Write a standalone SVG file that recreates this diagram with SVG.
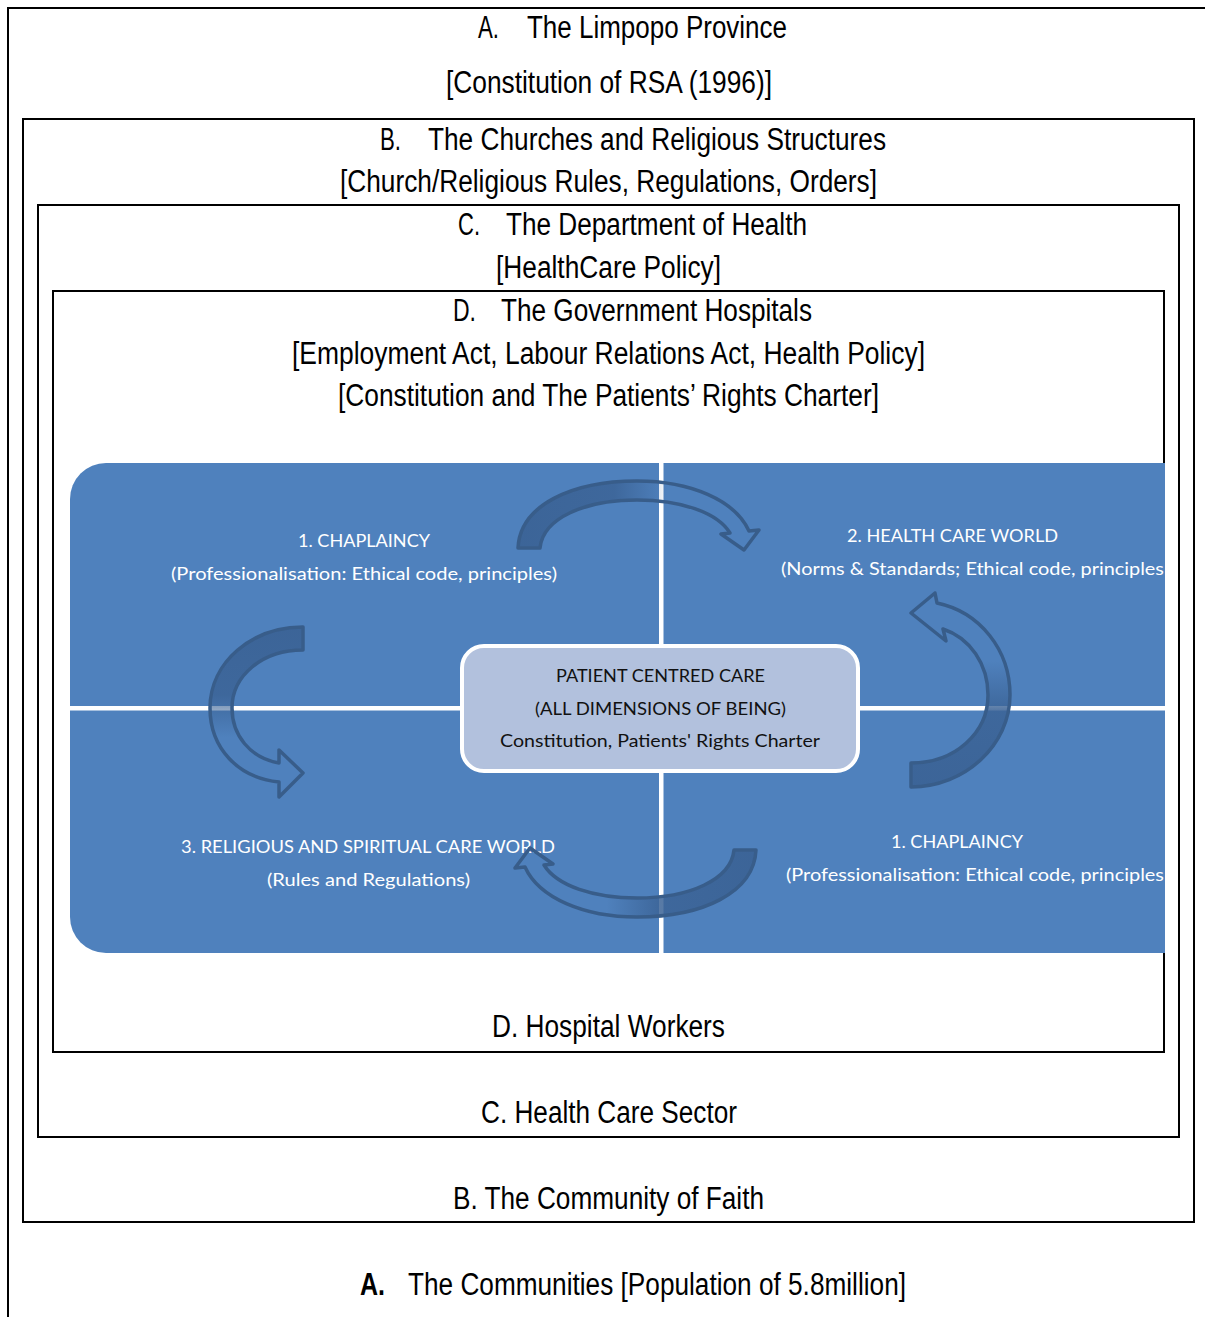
<svg xmlns="http://www.w3.org/2000/svg" width="1205" height="1317" viewBox="0 0 1205 1317">
  <defs>
    <style>
      .frame { fill: none; stroke: #000; stroke-width: 2; }
      .head { font-family: "Liberation Sans Narrow", "Liberation Sans", Arial, sans-serif; font-size: 31px; fill: #000; }
      .bold { font-weight: bold; }
      .quad { font-family: Lato, "Open Sans", "Noto Sans", sans-serif; font-size: 18px; fill: #FFFFFF; }
      .core { font-family: Lato, "Open Sans", "Noto Sans", sans-serif; font-size: 18px; fill: #111; }
      .arrow { stroke: #385D8A; stroke-width: 3.5; stroke-linejoin: round; }
    </style>
    <linearGradient id="fadeH" x1="0" y1="0" x2="1" y2="0">
      <stop offset="0" stop-color="#3B6396" stop-opacity="0.95"/>
      <stop offset="0.4" stop-color="#3B6396" stop-opacity="0.85"/>
      <stop offset="0.62" stop-color="#3B6396" stop-opacity="0"/>
    </linearGradient>
    <linearGradient id="fadeDown" x1="0" y1="0" x2="0" y2="1">
      <stop offset="0" stop-color="#3B6396" stop-opacity="0.95"/>
      <stop offset="0.4" stop-color="#3B6396" stop-opacity="0.85"/>
      <stop offset="0.65" stop-color="#3B6396" stop-opacity="0"/>
    </linearGradient>
    <linearGradient id="fadeUp" x1="0" y1="1" x2="0" y2="0">
      <stop offset="0" stop-color="#3B6396" stop-opacity="0.95"/>
      <stop offset="0.4" stop-color="#3B6396" stop-opacity="0.85"/>
      <stop offset="0.65" stop-color="#3B6396" stop-opacity="0"/>
    </linearGradient>
  </defs>

  <rect width="1205" height="1317" fill="#FFFFFF"/>

  <!-- A: province frame (runs past the right and bottom edges) -->
  <g id="level-a">
    <rect class="frame" x="8" y="8" width="1210" height="1330"/>
    <text class="head" x="478" y="38" textLength="21" lengthAdjust="spacingAndGlyphs">A.</text>
    <text class="head" x="527" y="38" textLength="260" lengthAdjust="spacingAndGlyphs">The Limpopo Province</text>
    <text class="head" x="446" y="93" textLength="326" lengthAdjust="spacingAndGlyphs">[Constitution of RSA (1996)]</text>
    <text class="head bold" x="360" y="1295" textLength="25" lengthAdjust="spacingAndGlyphs">A.</text>
    <text class="head" x="408" y="1295" textLength="498" lengthAdjust="spacingAndGlyphs">The Communities [Population of 5.8million]</text>
  </g>

  <!-- B: churches and religious structures -->
  <g id="level-b">
    <rect class="frame" x="23" y="119" width="1171" height="1103"/>
    <text class="head" x="380" y="150" textLength="21" lengthAdjust="spacingAndGlyphs">B.</text>
    <text class="head" x="428" y="150" textLength="458" lengthAdjust="spacingAndGlyphs">The Churches and Religious Structures</text>
    <text class="head" x="340" y="192" textLength="537" lengthAdjust="spacingAndGlyphs">[Church/Religious Rules, Regulations, Orders]</text>
    <text class="head" x="453" y="1209" textLength="311" lengthAdjust="spacingAndGlyphs">B. The Community of Faith</text>
  </g>

  <!-- C: department of health -->
  <g id="level-c">
    <rect class="frame" x="38" y="205" width="1141" height="932"/>
    <text class="head" x="458" y="235" textLength="22" lengthAdjust="spacingAndGlyphs">C.</text>
    <text class="head" x="506" y="235" textLength="301" lengthAdjust="spacingAndGlyphs">The Department of Health</text>
    <text class="head" x="496" y="278" textLength="225" lengthAdjust="spacingAndGlyphs">[HealthCare Policy]</text>
    <text class="head" x="481" y="1123" textLength="256" lengthAdjust="spacingAndGlyphs">C. Health Care Sector</text>
  </g>

  <!-- D: government hospitals -->
  <g id="level-d">
    <rect class="frame" x="53" y="291" width="1111" height="761"/>
    <text class="head" x="453" y="321" textLength="23" lengthAdjust="spacingAndGlyphs">D.</text>
    <text class="head" x="501" y="321" textLength="311" lengthAdjust="spacingAndGlyphs">The Government Hospitals</text>
    <text class="head" x="292" y="364" textLength="633" lengthAdjust="spacingAndGlyphs">[Employment Act, Labour Relations Act, Health Policy]</text>
    <text class="head" x="338" y="406" textLength="541" lengthAdjust="spacingAndGlyphs">[Constitution and The Patients’ Rights Charter]</text>
    <text class="head" x="492" y="1037" textLength="233" lengthAdjust="spacingAndGlyphs">D. Hospital Workers</text>
  </g>

  <!-- Quadrant panel -->
  <g id="quadrants">
    <path d="M 106 463 H 1165 V 953 H 106 A 36 36 0 0 1 70 917 V 499 A 36 36 0 0 1 106 463 Z" fill="#4F81BD"/>
    <rect x="659" y="463" width="4.5" height="490" fill="#FFFFFF"/>
    <rect x="70" y="706" width="1095" height="4.5" fill="#FFFFFF"/>
  </g>

  <g id="quad-chaplaincy-1">
    <text class="quad" x="298" y="547" textLength="132" lengthAdjust="spacingAndGlyphs">1. CHAPLAINCY</text>
    <text class="quad" x="171" y="580" textLength="386" lengthAdjust="spacingAndGlyphs">(Professionalisation: Ethical code, principles)</text>
  </g>
  <g id="quad-health-care">
    <text class="quad" x="847" y="542" textLength="211" lengthAdjust="spacingAndGlyphs">2. HEALTH CARE WORLD</text>
    <text class="quad" x="781" y="575" textLength="383" lengthAdjust="spacingAndGlyphs">(Norms &amp; Standards; Ethical code, principles</text>
  </g>
  <g id="quad-religious">
    <text class="quad" x="181" y="853" textLength="374" lengthAdjust="spacingAndGlyphs">3. RELIGIOUS AND SPIRITUAL CARE WORLD</text>
    <text class="quad" x="267" y="886" textLength="203" lengthAdjust="spacingAndGlyphs">(Rules and Regulations)</text>
  </g>
  <g id="quad-chaplaincy-2">
    <text class="quad" x="891" y="848" textLength="132" lengthAdjust="spacingAndGlyphs">1. CHAPLAINCY</text>
    <text class="quad" x="786" y="881" textLength="378" lengthAdjust="spacingAndGlyphs">(Professionalisation: Ethical code, principles</text>
  </g>

  <!-- Centre node -->
  <g id="patient-centred-care">
    <rect x="462" y="646" width="396" height="125" rx="22" ry="22" fill="#B2C1DD" stroke="#FFFFFF" stroke-width="4"/>
    <text class="core" x="556" y="682" textLength="209" lengthAdjust="spacingAndGlyphs">PATIENT CENTRED CARE</text>
    <text class="core" x="535" y="715" textLength="251" lengthAdjust="spacingAndGlyphs">(ALL DIMENSIONS OF BEING)</text>
    <text class="core" x="500" y="747" textLength="320" lengthAdjust="spacingAndGlyphs">Constitution, Patients' Rights Charter</text>
  </g>

  <!-- Curved cycle arrows -->
  <g id="connectors">
    <path id="arrow-top" class="arrow" fill="url(#fadeH)"
      d="M 518 548 C 520 505 572 481 637 481 C 690 481 735 500 749 531 L 759 530 L 744 550 L 721 534 L 730 533 C 717 512 680 500 637 500 C 585 500 543 518 540 548 Z"/>
    <path id="arrow-bottom" class="arrow" fill="url(#fadeH)" transform="rotate(180 637 699)"
      d="M 518 548 C 520 505 572 481 637 481 C 690 481 735 500 749 531 L 759 530 L 744 550 L 721 534 L 730 533 C 717 512 680 500 637 500 C 585 500 543 518 540 548 Z"/>
    <path id="arrow-left" class="arrow" fill="url(#fadeDown)"
      d="M 303 627 C 252 627 210 662 210 708 C 210 748 238 778 279 782 L 279 797 L 303 773 L 279 750 L 279 763 C 250 758 232 735 232 708 C 232 676 262 650 303 650 Z"/>
    <path id="arrow-right" class="arrow" fill="url(#fadeUp)"
      d="M 911 787 C 965 787 1010 745 1010 695 C 1010 650 980 612 937 603 L 935 593 L 911 613 L 946 641 L 943 629 C 970 638 988 664 988 695 C 988 733 955 763 911 763 Z"/>
  </g>
</svg>
